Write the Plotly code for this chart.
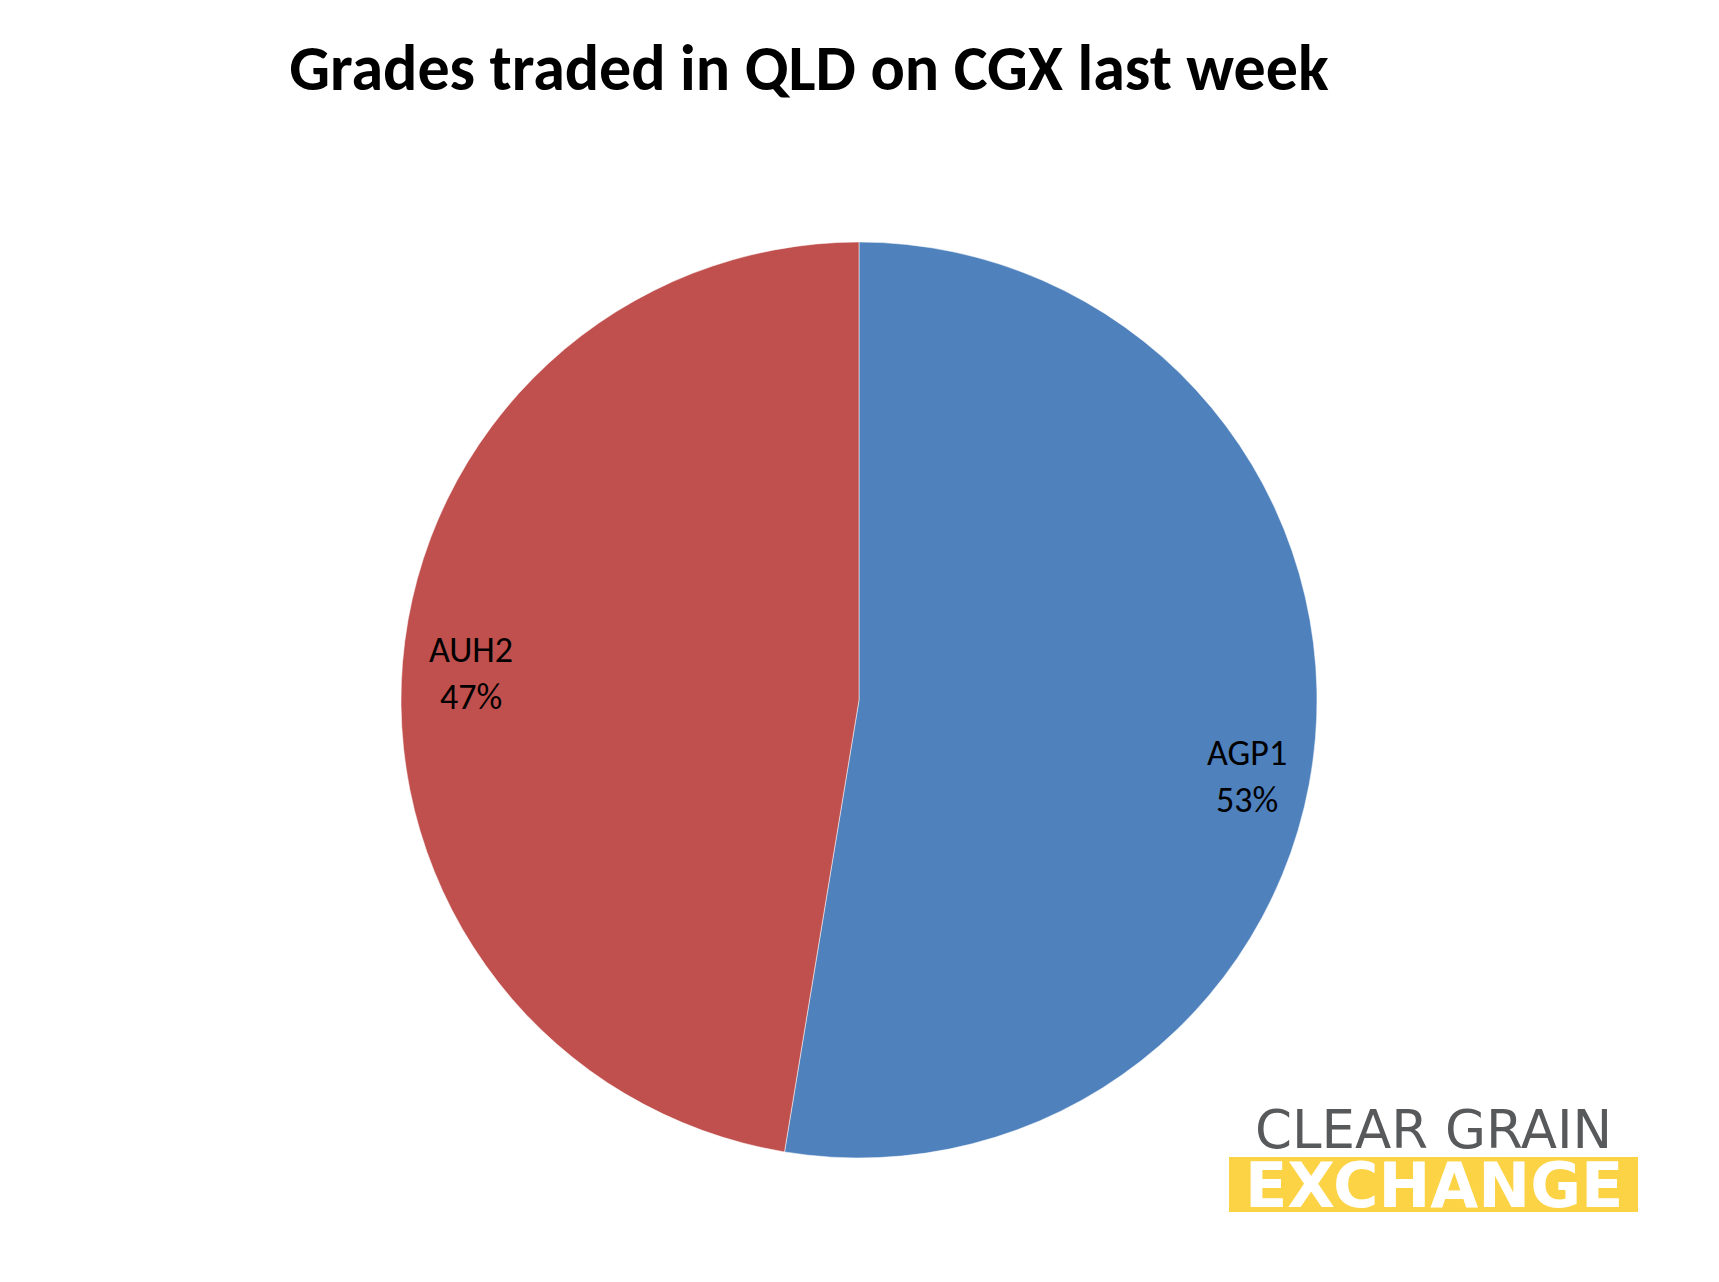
import math
import plotly.graph_objects as go

# ---- data ----
grades = ["AGP1", "AUH2"]
shares = [52.6, 47.4]
slice_colors = ["#4F81BD", "#C0504D"]
title_text = "Grades traded in QLD on CGX last week"

# ---- layout (pixel positions measured on the picture) ----
W, H = 1719, 1282
PAGE = 8                   # browser body margin shifts the figure by this much
cx, cy = 859 - PAGE, 700 - PAGE   # pie centre (px from top-left of the figure)
R = 458                    # pie radius (px)
label_r = 0.85             # label distance as fraction of radius
label_yshift = [-45, -5]   # Excel's placement nudge for each label (px)

dom_x = [(cx - R) / W, (cx + R) / W]
dom_y = [(H - cy - R) / H, (H - cy + R) / H]

fig = go.Figure()
fig.add_trace(go.Pie(
    labels=grades,
    values=shares,
    sort=False,
    direction="clockwise",
    rotation=0,
    marker=dict(colors=slice_colors, line=dict(color="rgba(255,255,255,0.5)", width=1)),
    textinfo="none",
    hoverinfo="label+percent",
    showlegend=False,
    domain=dict(x=dom_x, y=dom_y),
))

# labels placed near the outer edge along each slice bisector (Excel "inside end")
total = sum(shares)
cum = 0.0
annotations = []
for g, v, ys in zip(grades, shares, label_yshift):
    mid = (cum + v / 2) / total * 2 * math.pi
    cum += v
    px = cx + label_r * R * math.sin(mid)
    py_up = (H - cy) + label_r * R * math.cos(mid)
    pct = round(v / total * 100)
    annotations.append(dict(
        x=px / W, y=py_up / H, xref="paper", yref="paper",
        text=f"{g}<br>{pct}%", showarrow=False, yshift=ys,
        font=dict(family="Carlito, Lato, sans-serif", size=36, color="#000000"),
        xanchor="center", yanchor="middle", align="center",
    ))

# logo: CLEAR GRAIN / EXCHANGE
logo_x0, logo_x1 = 1229 - PAGE, 1638 - PAGE
band_y0, band_y1 = 1157 - PAGE, 1212 - PAGE
annotations.append(dict(
    x=(logo_x0 + logo_x1) / 2 / W, y=(H - (1129 - PAGE)) / H, xref="paper", yref="paper",
    text="CLEAR GRAIN", showarrow=False,
    font=dict(family="DejaVu Sans, sans-serif", size=53, color="#58595B"),
    xanchor="center", yanchor="middle",
))
annotations.append(dict(
    x=(logo_x0 + logo_x1) / 2 / W, y=(H - (band_y0 + band_y1) / 2 - 1) / H, xref="paper", yref="paper",
    text="<b>EXCHANGE</b>", showarrow=False,
    font=dict(family="DejaVu Sans, sans-serif", size=62, color="#FFFFFF"),
    xanchor="center", yanchor="middle",
))

shapes = [dict(
    type="rect", xref="paper", yref="paper",
    x0=logo_x0 / W, x1=logo_x1 / W, y0=(H - band_y1) / H, y1=(H - band_y0) / H,
    fillcolor="#FCD345", line=dict(width=0), layer="below",
)]

fig.update_layout(
    width=W, height=H,
    margin=dict(l=0, r=0, t=0, b=0),
    paper_bgcolor="#FFFFFF",
    plot_bgcolor="#FFFFFF",
    title=dict(
        text=f"<b>{title_text}</b>",
        x=(809 - PAGE) / W, xanchor="center",
        y=1 - (68 - PAGE) / H, yanchor="middle",
        font=dict(family="Carlito, Lato, sans-serif", size=64, color="#000000"),
    ),
    annotations=annotations,
    shapes=shapes,
)

fig.write_html("out.html")
